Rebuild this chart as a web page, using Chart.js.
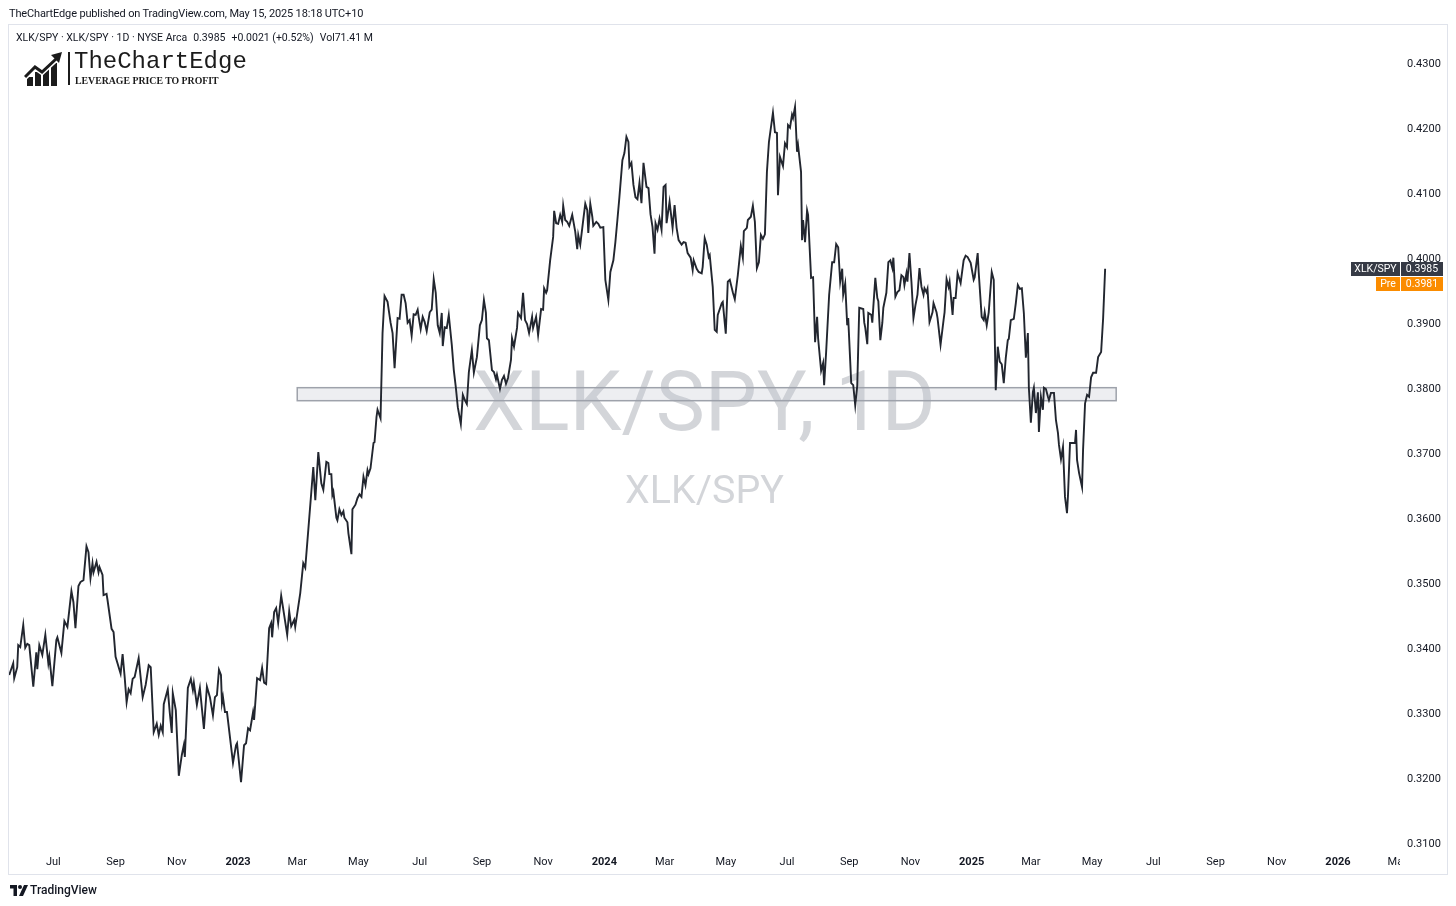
<!DOCTYPE html>
<html>
<head>
<meta charset="utf-8">
<title>XLK/SPY 1D</title>
<script src="https://cdn.jsdelivr.net/npm/chart.js@4.4.1/dist/chart.umd.min.js"></script>
<style>
  html, body { margin: 0; padding: 0; background: #fff; }
  #wrap { position: relative; width: 1456px; height: 906px; overflow: hidden; color: #131722; font-family: Roboto, 'Noto Sans', sans-serif; }
  #wrap canvas { position: absolute; left: 0; top: 0; }
  .txt { position: absolute; white-space: nowrap; line-height: 14px; }
  #published { left: 9px; top: 7px; font-size: 11px; letter-spacing: -0.15px; }
  #legend { left: 16px; top: 31px; font-size: 10.5px; }
  #legend .gap { display: inline-block; width: 6px; }
  #brand { left: 74px; top: 50px; font-family: 'Liberation Mono', 'DejaVu Sans Mono', monospace; font-size: 24px; line-height: 24px; color: #1b1b1b; }
  #slogan { left: 75px; top: 74px; font-family: 'Liberation Serif', serif; font-weight: bold; font-size: 9.8px; color: #1b1b1b; }
  #sep { position: absolute; left: 68px; top: 52px; width: 2px; height: 33px; background: #1b1b1b; }
  #logo { position: absolute; left: 24px; top: 52px; }
  #tvlogo { position: absolute; left: 10px; top: 885px; }
  #tvname { left: 30px; top: 883px; font-size: 12px; font-weight: 500; }
</style>
</head>
<body>
<div id="wrap">
  <canvas id="chart" width="1456" height="906"></canvas>
  <div class="txt" id="published">TheChartEdge published on TradingView.com, May 15, 2025 18:18 UTC+10</div>
  <div class="txt" id="legend">XLK/SPY · XLK/SPY · 1D · NYSE Arca<span class="gap"></span>0.3985<span class="gap"></span>+0.0021 (+0.52%)<span class="gap"></span>Vol71.41 M</div>
  <svg id="logo" width="40" height="34" viewBox="0 0 40 34">
    <g fill="#1b1b1b">
      <rect x="3" y="25" width="6" height="9"/>
      <rect x="11" y="20" width="6" height="14"/>
      <rect x="19" y="17" width="6" height="17"/>
      <rect x="27" y="11" width="6" height="23"/>
    </g>
    <polyline points="1,25 11,15 18,20 32,7" fill="none" stroke="#fff" stroke-width="6"/>
    <polyline points="1,25 11,15 18,20 32,7" fill="none" stroke="#1b1b1b" stroke-width="3"/>
    <polygon points="27,3 38,0 35,11" fill="#1b1b1b"/>
  </svg>
  <div id="sep"></div>
  <div class="txt" id="brand">TheChartEdge</div>
  <div class="txt" id="slogan">LEVERAGE PRICE TO PROFIT</div>
  <svg id="tvlogo" width="18" height="11" viewBox="0 0 18 11">
    <path d="M0 0h7v11H3.5V3.5H0z" fill="#131722"/>
    <circle cx="10" cy="2" r="2" fill="#131722"/>
    <path d="M14 0h4l-5 11H9z" fill="#131722"/>
  </svg>
  <div class="txt" id="tvname">TradingView</div>
</div>

<script>
// XLK/SPY daily close.
// dayNum = calendar days from 2023-01-01
const dayNum = [
  -228,-224,-223,-220,-219,-217,-214,-212,-210,-208,
  -204,-201,-200,-198,-195,-192,-189,-188,-185,-181,
  -180,-176,-173,-170,-166,-164,-162,-159,-157,-154,
  -151,-149,-147,-145,-144,-141,-139,-138,-135,-134,
  -131,-130,-126,-124,-122,-117,-115,-113,-111,-109,
  -107,-105,-103,-99,-95,-92,-89,-87,-84,-81,
  -79,-77,-75,-74,-70,-68,-66,-65,-62,-59,
  -56,-54,-53,-50,-47,-45,-44,-41,-38,-34,
  -31,-28,-25,-23,-21,-19,-17,-16,-15,-13,
  -11,-5,-2,-1,3,6,8,10,12,15,
  16,19,22,24,26,28,31,33,34,36,
  38,40,43,49,51,53,56,57,62,65,
  67,70,75,77,80,83,85,88,90,91,
  93,94,95,98,99,101,103,105,106,109,
  110,113,114,117,119,121,123,125,127,129,
  130,132,135,136,138,139,142,144,146,149,
  152,154,156,159,161,163,165,167,169,171,
  173,175,177,179,180,182,184,186,188,191,
  193,195,197,199,201,203,204,206,208,210,
  213,215,217,219,222,224,226,228,230,233,
  235,238,241,243,245,247,248,250,253,255,
  257,258,261,263,265,267,269,272,273,275,
  278,279,282,284,286,288,290,293,294,297,
  299,302,304,305,307,308,311,314,315,317,
  319,321,323,324,326,328,330,333,336,338,
  339,341,344,346,348,349,351,353,354,357,
  359,361,364,366,369,371,374,376,378,380,
  383,385,387,389,390,392,394,396,398,400,
  402,404,407,409,411,413,415,416,418,420,
  422,424,426,427,430,433,435,437,439,442,
  444,446,448,451,453,454,457,459,462,463,
  465,467,469,470,473,475,477,478,482,483,
  486,488,490,493,495,498,501,503,504,507,
  508,511,513,515,517,519,521,523,525,527,
  529,533,535,537,538,540,543,545,547,548,
  550,552,553,555,557,558,561,562,563,565,
  567,568,571,573,575,577,578,581,583,584,
  586,589,592,594,596,598,600,602,603,605,
  607,608,611,613,615,617,619,623,624,625,
  627,628,631,632,633,635,637,638,640,642,
  643,646,648,650,652,653,655,657,659,661,
  663,664,666,667,669,671,673,675,677,679,
  681,683,684,686,687,689,692,693,696,697,
  700,703,704,706,708,709,712,713,715,717,
  720,723,725,727,730,733,734,737,738,741,
  743,744,746,748,751,753,755,757,759,761,
  763,765,767,768,770,773,775,777,779,781,
  783,785,787,788,790,792,793,795,797,798,
  800,802,803,805,807,808,810,812,813,815,
  817,818,820,822,824,826,827,829,832,834,
  835,836,838,841,842,844,846,848,850,852,
  855,857,860,862,864
];
const ratio = [
  0.3360,0.3378,0.3355,0.3372,0.3406,0.3403,0.3437,0.3402,0.3408,0.3406,
  0.3342,0.3395,0.3369,0.3406,0.3391,0.3422,0.3378,0.3388,0.3343,0.3414,
  0.3418,0.3394,0.3443,0.3434,0.3489,0.3472,0.3432,0.3497,0.3503,0.3506,
  0.3558,0.3549,0.3509,0.3532,0.3518,0.3534,0.3518,0.3526,0.3514,0.3483,
  0.3485,0.3475,0.3431,0.3426,0.3388,0.3362,0.3392,0.3358,0.3318,0.3338,
  0.3332,0.3354,0.3357,0.3386,0.3326,0.3345,0.3375,0.3372,0.3272,0.3285,
  0.3268,0.3282,0.3272,0.3315,0.3338,0.3302,0.3271,0.3332,0.3306,0.3205,
  0.3237,0.3252,0.3234,0.3340,0.3354,0.3337,0.3348,0.3314,0.3340,0.3277,
  0.3342,0.3326,0.3298,0.3326,0.3329,0.3368,0.3360,0.3317,0.3326,0.3303,
  0.3303,0.3225,0.3252,0.3255,0.3195,0.3252,0.3255,0.3278,0.3275,0.3303,
  0.3291,0.3355,0.3352,0.3371,0.3348,0.3346,0.3432,0.3440,0.3418,0.3457,
  0.3463,0.3440,0.3482,0.3422,0.3458,0.3435,0.3445,0.3434,0.3486,0.3532,
  0.3525,0.3583,0.3680,0.3629,0.3703,0.3655,0.3645,0.3688,0.3686,0.3669,
  0.3669,0.3637,0.3642,0.3602,0.3598,0.3615,0.3606,0.3612,0.3602,0.3595,
  0.3578,0.3546,0.3615,0.3622,0.3632,0.3638,0.3634,0.3665,0.3652,0.3675,
  0.3669,0.3678,0.3717,0.3718,0.3757,0.3768,0.3755,0.3886,0.3943,0.3934,
  0.3902,0.3886,0.3832,0.3909,0.3908,0.3945,0.3945,0.3932,0.3902,0.3906,
  0.3882,0.3915,0.3914,0.3922,0.3911,0.3892,0.3911,0.3903,0.3889,0.3918,
  0.3922,0.3969,0.3948,0.3898,0.3886,0.3917,0.3866,0.3895,0.3894,0.3914,
  0.3868,0.3829,0.3803,0.3772,0.3746,0.3791,0.3783,0.3777,0.3826,0.3860,
  0.3825,0.3849,0.3898,0.3906,0.3937,0.3917,0.3878,0.3875,0.3829,0.3826,
  0.3815,0.3822,0.3800,0.3814,0.3820,0.3808,0.3817,0.3845,0.3878,0.3865,
  0.3894,0.3917,0.3909,0.3948,0.3906,0.3900,0.3886,0.3911,0.3894,0.3911,
  0.3883,0.3923,0.3922,0.3955,0.3948,0.3952,0.3998,0.4034,0.4074,0.4055,
  0.4054,0.4068,0.4057,0.4082,0.4060,0.4057,0.4051,0.4068,0.4042,0.4015,
  0.4037,0.4022,0.4060,0.4085,0.4075,0.4040,0.4085,0.4065,0.4051,0.4057,
  0.4054,0.4048,0.4049,0.3968,0.3937,0.3980,0.3998,0.4026,0.4060,0.4095,
  0.4152,0.4163,0.4188,0.4180,0.4142,0.4148,0.4114,0.4095,0.4092,0.4117,
  0.4086,0.4148,0.4111,0.4109,0.4069,0.4049,0.4008,0.4055,0.4045,0.4062,
  0.4045,0.4111,0.4114,0.4055,0.4088,0.4048,0.4083,0.4048,0.4029,0.4022,
  0.4026,0.4025,0.4009,0.4002,0.3983,0.3998,0.3985,0.3980,0.3978,0.3988,
  0.4032,0.4022,0.4003,0.4006,0.3957,0.3891,0.3888,0.3914,0.3932,0.3934,
  0.3885,0.3965,0.3968,0.3949,0.3938,0.3975,0.4020,0.4002,0.4043,0.4048,
  0.4060,0.4065,0.4082,0.4057,0.3986,0.3995,0.4037,0.4031,0.4038,0.4134,
  0.4180,0.4225,0.4195,0.4194,0.4098,0.4157,0.4143,0.4178,0.4172,0.4206,
  0.4202,0.4222,0.4217,0.4234,0.4165,0.4175,0.4134,0.4029,0.4060,0.4026,
  0.4075,0.4068,0.3971,0.3972,0.3872,0.3911,0.3878,0.3828,0.3840,0.3806,
  0.3857,0.3945,0.3995,0.3995,0.4023,0.4018,0.3965,0.3985,0.3945,0.3962,
  0.3898,0.3909,0.3809,0.3806,0.3775,0.3805,0.3925,0.3923,0.3902,0.3894,
  0.3869,0.3917,0.3914,0.3902,0.3926,0.3971,0.3940,0.3935,0.3875,0.3902,
  0.3925,0.3948,0.3995,0.3998,0.3986,0.4002,0.3942,0.3949,0.3952,0.3975,
  0.3972,0.3960,0.3978,0.3965,0.4009,0.3965,0.3909,0.3929,0.3945,0.3986,
  0.3957,0.3945,0.3955,0.3949,0.3954,0.3903,0.3918,0.3932,0.3918,0.3909,
  0.3868,0.3906,0.3918,0.3969,0.3957,0.3965,0.3914,0.3940,0.3940,0.3978,
  0.3963,0.3998,0.4005,0.4003,0.3994,0.3968,0.3972,0.4009,0.3980,0.3911,
  0.3906,0.3918,0.3898,0.3918,0.3980,0.3968,0.3798,0.3865,0.3842,0.3838,
  0.3809,0.3848,0.3875,0.3877,0.3906,0.3908,0.3932,0.3960,0.3954,0.3955,
  0.3917,0.3848,0.3886,0.3802,0.3748,0.3795,0.3802,0.3763,0.3795,0.3734,
  0.3788,0.3768,0.3802,0.3800,0.3788,0.3783,0.3794,0.3794,0.3794,0.3752,
  0.3732,0.3714,0.3692,0.3711,0.3634,0.3609,0.3637,0.3717,0.3717,0.3717,
  0.3737,0.3691,0.3671,0.3649,0.3706,0.3778,0.3791,0.3788,0.3818,0.3825,
  0.3825,0.3849,0.3857,0.3909,0.3985
];

const preMarket = 0.3981;

// time axis labels (first day of each month, days from 2023-01-01)
const tickDays  = [-184,-122,-61,0,59,120,181,243,304,365,425,486,547,609,670,731,790,851,912,974,1035,1096,1155];
const tickNames = ['Jul','Sep','Nov','2023','Mar','May','Jul','Sep','Nov','2024','Mar','May','Jul','Sep','Nov','2025','Mar','May','Jul','Sep','Nov','2026','Mar'];
const yTicks = [0.31,0.32,0.33,0.34,0.35,0.36,0.37,0.38,0.39,0.40,0.41,0.42,0.43];

// support zone rectangle (Mar 2023 -> Jun 2025)
const zoneFrom = 59, zoneTo = 875;
const zoneHigh = 0.3802, zoneLow = 0.3782;

const xMin = -228.2, xMax = 1157.8;
const yMin = 0.30908, yMax = 0.43615;

const FONT = "Roboto, 'Noto Sans', sans-serif";

const backdrop = {
  id: 'backdrop',
  beforeDatasetsDraw(chart) {
    const { ctx, chartArea: a, scales: { x, y } } = chart;
    const cx = (a.left + a.right) / 2, cy = (a.top + a.bottom) / 2;
    ctx.save();
    // watermark
    ctx.fillStyle = 'rgba(120,126,140,0.33)';
    ctx.textAlign = 'center';
    ctx.textBaseline = 'alphabetic';
    ctx.font = '100px ' + FONT;
    let w = ctx.measureText('XLK/SPY, 1D').width;
    ctx.font = (100 * 463 / w).toFixed(1) + 'px ' + FONT;
    ctx.fillText('XLK/SPY, 1D', cx, cy - 7);
    ctx.font = '100px ' + FONT;
    w = ctx.measureText('XLK/SPY').width;
    ctx.font = (100 * 159 / w).toFixed(1) + 'px ' + FONT;
    ctx.fillText('XLK/SPY', cx, cy + 66);
    // zone
    const x0 = x.getPixelForValue(zoneFrom), x1 = x.getPixelForValue(zoneTo);
    const y0 = y.getPixelForValue(zoneHigh), y1 = y.getPixelForValue(zoneLow);
    ctx.fillStyle = 'rgba(190,194,204,0.28)';
    ctx.fillRect(x0, y0, x1 - x0, y1 - y0);
    ctx.strokeStyle = '#9ea2ab';
    ctx.lineWidth = 1.5;
    ctx.strokeRect(x0, y0, x1 - x0, y1 - y0);
    ctx.restore();
  },
  afterDraw(chart) {
    const { ctx, chartArea: a, scales: { y } } = chart;
    ctx.save();
    // corner cell between price and time axes
    ctx.fillStyle = '#fff';
    ctx.fillRect(a.right, a.bottom + 1, 46, 23);
    // outer frame
    ctx.strokeStyle = '#e0e3eb';
    ctx.lineWidth = 1;
    ctx.strokeRect(8.5, 24.5, 1439, 850);
    // last price tags
    const last = ratio[ratio.length - 1];
    const py = Math.round(y.getPixelForValue(last));
    ctx.font = '10.5px ' + FONT;
    ctx.textBaseline = 'middle';
    ctx.textAlign = 'center';
    ctx.fillStyle = '#363a45';
    ctx.fillRect(a.right - 49, py - 7, 49, 14);
    ctx.fillRect(a.right + 1, py - 7, 42, 14);
    ctx.fillStyle = '#fff';
    ctx.fillText('XLK/SPY', a.right - 24.5, py + 0.5);
    ctx.fillText(last.toFixed(4), a.right + 22, py + 0.5);
    ctx.fillStyle = '#fb8c00';
    ctx.fillRect(a.right - 24, py + 8, 24, 14);
    ctx.fillRect(a.right + 1, py + 8, 42, 14);
    ctx.fillStyle = '#fff';
    ctx.fillText('Pre', a.right - 12, py + 15.5);
    ctx.fillText(preMarket.toFixed(4), a.right + 22, py + 15.5);
    ctx.restore();
  }
};

new Chart(document.getElementById('chart'), {
  type: 'line',
  data: {
    datasets: [{
      label: 'XLK/SPY',
      data: dayNum.map((d, i) => ({ x: d, y: ratio[i] })),
      borderColor: '#22262f',
      borderWidth: 1.9,
      pointRadius: 0,
      tension: 0,
      fill: false
    }]
  },
  options: {
    responsive: false,
    animation: false,
    devicePixelRatio: 1,
    layout: { padding: { left: 9, right: 9, top: 24, bottom: 32 } },
    plugins: { legend: { display: false }, tooltip: { enabled: false } },
    scales: {
      x: {
        type: 'linear', min: xMin, max: xMax,
        grid: { display: false, drawTicks: false },
        border: { display: false },
        afterBuildTicks: s => { s.ticks = tickDays.map(v => ({ value: v })); },
        afterFit: s => { s.height = 24; s.paddingLeft = 0; s.paddingRight = 0; },
        ticks: {
          autoSkip: false, maxRotation: 0, padding: 6, color: '#131722',
          callback: (v, i) => tickNames[i],
          font: ctx => ({ family: FONT, size: 11, weight: /^\d{4}$/.test(tickNames[ctx.index]) ? 'bold' : 'normal' })
        }
      },
      y: {
        type: 'linear', position: 'right', min: yMin, max: yMax,
        grid: { display: false, drawTicks: false },
        border: { display: false },
        afterBuildTicks: s => { s.ticks = yTicks.map(v => ({ value: v })); },
        afterFit: s => { s.width = 47; s.paddingTop = 0; s.paddingBottom = 0; },
        ticks: {
          padding: 7, color: '#131722',
          font: { family: FONT, size: 11 },
          callback: v => v.toFixed(4)
        }
      }
    }
  },
  plugins: [backdrop]
});
</script>
</body>
</html>
